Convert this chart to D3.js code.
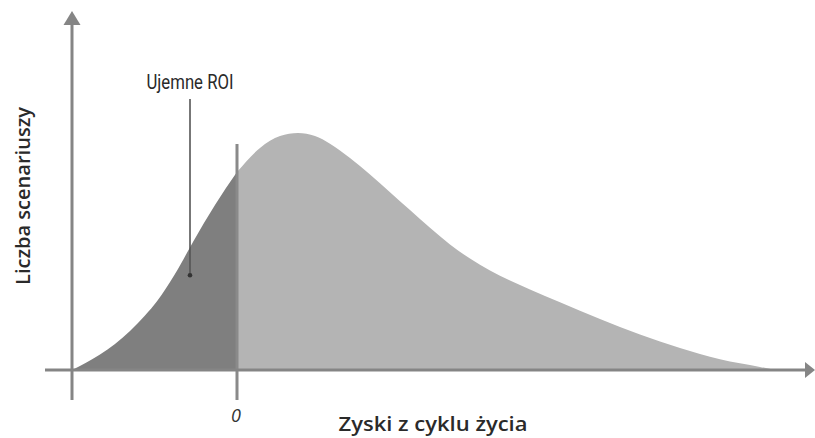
<!DOCTYPE html>
<html>
<head>
<meta charset="utf-8">
<script src="https://cdn.jsdelivr.net/npm/d3@7"></script>
<style>
  html, body { margin: 0; padding: 0; background: #ffffff; }
  svg { display: block; }
</style>
</head>
<body>
<svg id="chart" width="815" height="438"></svg>
<script>
// ---- data ----
const gains  = [-33, -27.4, -24.4, -21.4, -18.4, -16, -12.4, -8.8, -4.4, 0, 4.6, 8.6, 12.2, 15.6, 18.6, 22.6, 26.6, 30.6, 34.6, 38.6, 42.6, 46.6, 50.6, 54.6, 58.6, 64.6, 72.6, 80.6, 88.6, 96.6, 104.6, 107.6];
const counts = [0, 6.5, 11, 16.5, 23, 29, 40.5, 54, 69.6, 83.5, 93.7, 98.7, 100, 98.7, 95.5, 89.5, 82.5, 75, 67.5, 60, 53, 47, 42, 37.8, 34, 28.6, 21.5, 15, 9.3, 4.5, 1.3, 0];
const xTickLabels = ["0"];
const xTitle = "Zyski z cyklu życia";
const yTitle = "Liczba scenariuszy";
const annotationText = "Ujemne ROI";
const annotationGain = -9.4;
const annotationCountTop = 114.3;
const annotationCountBottom = 40;
const zeroLineTop = 95.4;

const points = gains.map((g, i) => ({ g, c: counts[i] }));

const svg = d3.select("#chart");
const x = d3.scaleLinear().domain([-33, 115]).range([72, 812]);
const y = d3.scaleLinear().domain([0, 100]).range([370, 133]);

const axisColor = "#858585";

const area = d3.area()
  .x(d => x(d.g))
  .y0(y(0))
  .y1(d => y(d.c))
  .curve(d3.curveMonotoneX);

// light part (gain >= 0)
svg.append("path")
  .datum(points.filter(d => d.g >= 0))
  .attr("d", area)
  .attr("fill", "#b4b4b4");

// dark part (gain <= 0)
svg.append("path")
  .datum(points.filter(d => d.g <= 0))
  .attr("d", area)
  .attr("fill", "#7f7f7f");

// zero line
svg.append("line")
  .attr("x1", x(0)).attr("x2", x(0))
  .attr("y1", y(zeroLineTop)).attr("y2", 400)
  .attr("stroke", "#8a8a8a").attr("stroke-width", 3);

// y axis
svg.append("line")
  .attr("x1", x(-33)).attr("x2", x(-33))
  .attr("y1", 22).attr("y2", 400)
  .attr("stroke", axisColor).attr("stroke-width", 3);
svg.append("path")
  .attr("d", `M${x(-33)},11 L${x(-33) - 8.5},25 L${x(-33) + 8.5},25 Z`)
  .attr("fill", axisColor);

// x axis
svg.append("line")
  .attr("x1", 45).attr("x2", 807)
  .attr("y1", y(0)).attr("y2", y(0))
  .attr("stroke", axisColor).attr("stroke-width", 3);
svg.append("path")
  .attr("d", `M815,${y(0)} L805,${y(0) - 8} L805,${y(0) + 8} Z`)
  .attr("fill", axisColor);

// tick label "0"
svg.selectAll("text.tick")
  .data(xTickLabels)
  .enter().append("text")
  .attr("class", "tick")
  .attr("x", x(0) - 1)
  .attr("y", 422)
  .attr("text-anchor", "middle")
  .attr("font-family", "'Open Sans', sans-serif")
  .attr("font-style", "italic")
  .attr("font-size", 18)
  .attr("fill", "#333")
  .text(d => d);

// x title
svg.append("text")
  .attr("x", 433)
  .attr("y", 431)
  .attr("text-anchor", "middle")
  .attr("font-family", "'Open Sans', sans-serif")
  .attr("font-weight", 600)
  .attr("font-size", 19)
  .attr("textLength", 189)
  .attr("lengthAdjust", "spacingAndGlyphs")
  .attr("fill", "#2a2a2a")
  .text(xTitle);

// y title
svg.append("text")
  .attr("transform", "translate(30,196) rotate(-90)")
  .attr("text-anchor", "middle")
  .attr("font-family", "'Open Sans', sans-serif")
  .attr("font-weight", 600)
  .attr("font-size", 19)
  .attr("textLength", 178)
  .attr("lengthAdjust", "spacingAndGlyphs")
  .attr("fill", "#2a2a2a")
  .text(yTitle);

// annotation
svg.append("line")
  .attr("x1", x(annotationGain)).attr("x2", x(annotationGain))
  .attr("y1", y(annotationCountTop)).attr("y2", y(annotationCountBottom))
  .attr("stroke", "#555").attr("stroke-width", 1.6);
svg.append("circle")
  .attr("cx", x(annotationGain)).attr("cy", y(annotationCountBottom))
  .attr("r", 2.3)
  .attr("fill", "#333");
svg.append("text")
  .attr("x", x(annotationGain))
  .attr("y", 89)
  .attr("text-anchor", "middle")
  .attr("font-family", "'Liberation Sans Narrow', 'Roboto', sans-serif")
  .attr("font-size", 20)
  .attr("textLength", 87)
  .attr("lengthAdjust", "spacingAndGlyphs")
  .attr("fill", "#2a2a2a")
  .text(annotationText);
</script>
</body>
</html>
